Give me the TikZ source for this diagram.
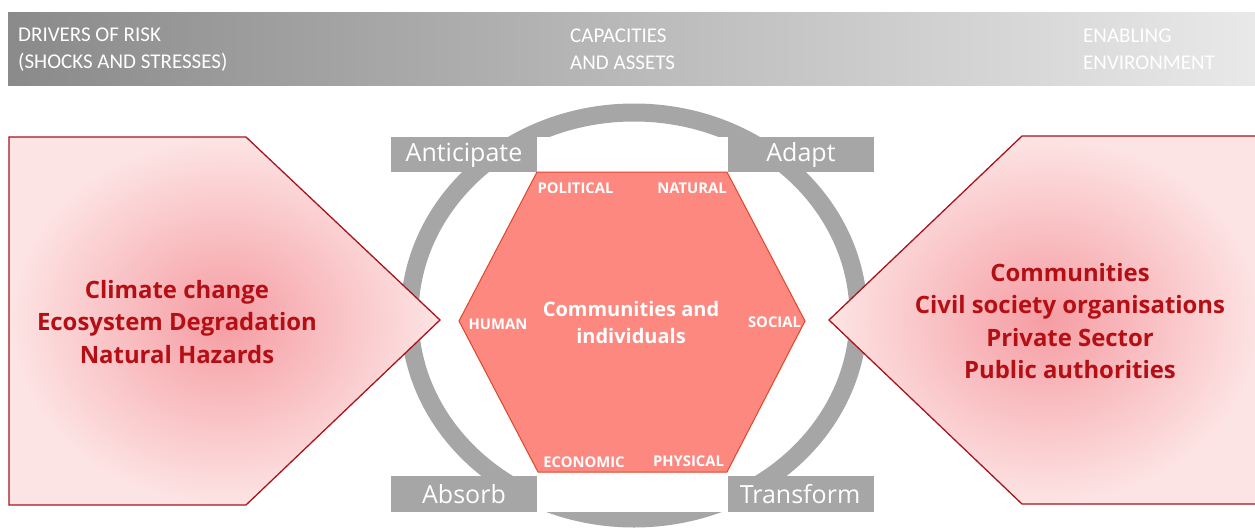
\documentclass[tikz,border=0pt]{standalone}
\usepackage{fontspec}
\setmainfont{Carlito}[Ligatures=NoCommon]
\newfontfamily\boxfont{Open Sans}
\definecolor{bardark}{HTML}{8A8A8A}
\definecolor{barmid}{HTML}{CDCDCD}
\definecolor{barlight}{HTML}{E9E9E9}
\definecolor{ringgray}{HTML}{A6A6A6}
\definecolor{pinkin}{HTML}{F59DA3}
\definecolor{pinkout}{HTML}{FDE4E4}
\definecolor{pentborder}{HTML}{A8141C}
\definecolor{pentText}{HTML}{B40F14}
\definecolor{hexfill}{HTML}{FC8880}
\definecolor{hexborder}{HTML}{E0452A}
\tikzset{
  bartext/.style={text=white, anchor=west, align=left, inner sep=0pt,
    font=\fontsize{21}{27}\selectfont},
  pent/.style={draw=pentborder, line width=1.3pt, inner color=pinkin, outer color=pinkout},
  penttext/.style={text=pentText, align=center, inner sep=0pt,
    font=\boxfont\bfseries\fontsize{23.9}{32.5}\selectfont},
  graybox/.style={fill=ringgray, draw=none},
  boxtext/.style={text=white, inner sep=0pt, font=\boxfont\fontsize{25}{28}\selectfont},
  hexlabel/.style={text=white, inner sep=0pt, font=\boxfont\bfseries\fontsize{14.8}{16}\selectfont},
  hextext/.style={text=white, align=center, inner sep=0pt, font=\boxfont\bfseries\fontsize{20}{27}\selectfont},
}
\begin{document}
\begin{tikzpicture}[x=1pt,y=-1pt]
\useasboundingbox (0,0) rectangle (1255,528);
% top bar
\shade[left color=bardark, middle color=barmid, right color=barlight] (8,12) rectangle (1255,85);
\node[bartext] (drivers) at (18,49.5) {DRIVERS OF RISK\\(SHOCKS AND STRESSES)};
\node[bartext] (capac) at (570,49.5) {CAPACITIES\\AND ASSETS};
\node[bartext] (enabl) at (1083,49.5) {ENABLING\\ENVIRONMENT};
% ring
\draw[ringgray, line width=18pt] (634,315.5) ellipse [x radius=224.5, y radius=203];
\fill[white] (537,137) rectangle (728,172);
\fill[white] (537,476) rectangle (728,512);
% boxes
\fill[graybox] (391,137) rectangle (537,172);
\fill[graybox] (728,137) rectangle (874,172);
\fill[graybox] (391,476) rectangle (537,512);
\fill[graybox] (728,476) rectangle (874,512);
\node[boxtext] (antic) at (464,155) {Anticipate};
\node[boxtext] (adapt) at (801,155) {Adapt};
\node[boxtext] (absorb) at (464,494) {Absorb};
\node[boxtext] (transf) at (800,494) {Transform};
% pentagons
\shadedraw[pent] (9,137) -- (246,137) -- (440,320) -- (246,505) -- (9,505) -- cycle;
\shadedraw[pent] (1262,136) -- (1022,136) -- (829,320) -- (1022,504) -- (1262,504) -- cycle;
\node[penttext] (drv) at (177,322) {Climate change\\Ecosystem Degradation\\Natural Hazards};
\node[penttext] (actors) at (1070,321) {Communities\\Civil society organisations\\Private Sector\\Public authorities};
% hexagon
\filldraw[fill=hexfill, draw=hexborder, line width=1pt] (537,172) -- (727,172) -- (805,321) -- (727,472) -- (538,472) -- (459,321) -- cycle;
\node[hexlabel] (pol) at (575.5,188) {POLITICAL};
\node[hexlabel] (nat) at (692,188) {NATURAL};
\node[hexlabel] (hum) at (498,324) {HUMAN};
\node[hexlabel] (soc) at (774.5,322) {SOCIAL};
\node[hexlabel] (eco) at (584,462) {ECONOMIC};
\node[hexlabel] (phy) at (688.5,461) {PHYSICAL};
\node[hextext] (comm) at (631,322) {Communities and\\individuals};
\end{tikzpicture}
\end{document}
